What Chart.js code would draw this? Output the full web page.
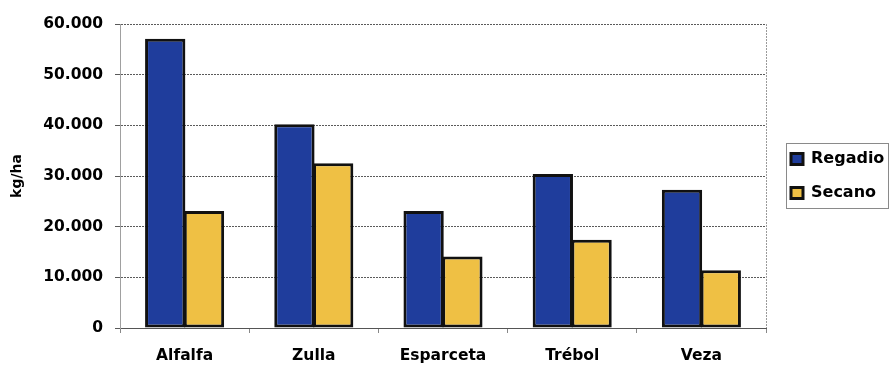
<!DOCTYPE html>
<html>
<head>
<meta charset="utf-8">
<script src="https://cdn.jsdelivr.net/npm/chart.js@4/dist/chart.umd.min.js"></script>
<style>
  html, body { margin: 0; padding: 0; background: #ffffff; }
  #wrap { width: 891px; height: 367px; position: relative; }
</style>
</head>
<body>
<div id="wrap"><canvas id="c" width="891" height="367"></canvas></div>
<script>
const categories = ["Alfalfa", "Zulla", "Esparceta", "Trébol", "Veza"];
const seriesNames = ["Regadio", "Secano"];
const regadio = [57100, 40200, 23100, 30400, 27300];
const secano = [23100, 32500, 14100, 17400, 11400];
const yAxisTitle = "kg/ha";
const yTickValues = [0, 10000, 20000, 30000, 40000, 50000, 60000];

function fmt(v) {
  return String(v).replace(/\B(?=(\d{3})+(?!\d))/g, ".");
}

const frame = {
  id: "frame",
  afterInit(chart) {
    const lg = chart.legend;
    if (lg && !lg._patched) {
      const orig = lg.fit.bind(lg);
      lg.fit = function () { orig(); this.width = 125; };
      lg._patched = true;
    }
  },
  afterLayout(chart) {
    const lg = chart.legend;
    if (lg) {
      lg.left = chart.chartArea.right + 7;
      lg.right = lg.left + lg.width;
      lg.top = chart.chartArea.top;
      lg.bottom = chart.chartArea.bottom;
    }
  },
  afterDraw(chart) {
    const ctx = chart.ctx;
    const a = chart.chartArea;
    ctx.save();
    ctx.strokeStyle = "#9a9a9a";
    ctx.lineWidth = 1;
    ctx.setLineDash([2, 1]);
    ctx.beginPath();
    ctx.moveTo(a.right + 0.5, a.top);
    ctx.lineTo(a.right + 0.5, a.bottom);
    ctx.stroke();
    ctx.setLineDash([]);
    ctx.strokeStyle = "#8a8a8a";
    ctx.strokeRect(786.5, 143.5, 102, 65);
    ctx.restore();
  }
};

new Chart(document.getElementById("c"), {
  type: "bar",
  data: {
    labels: categories,
    datasets: [
      { label: seriesNames[0], data: regadio, backgroundColor: "#1f3d9c", borderColor: "#111111", borderWidth: 3, borderSkipped: false },
      { label: seriesNames[1], data: secano, backgroundColor: "#efc044", borderColor: "#111111", borderWidth: 3, borderSkipped: false }
    ]
  },
  options: {
    responsive: false,
    animation: false,
    devicePixelRatio: 1,
    layout: { padding: { top: 24, bottom: 0, left: 0, right: 0 } },
    datasets: { bar: { categoryPercentage: 0.6, barPercentage: 1.04 } },
    scales: {
      x: {
        afterFit(scale) { scale.height = 39; },
        grid: { display: true, drawOnChartArea: false, drawTicks: true, tickLength: 5, color: "#888888", offset: true },
        border: { display: true, color: "#555555", width: 1 },
        ticks: { color: "#000000", padding: 14, maxRotation: 0, font: { family: "DejaVu Sans", weight: "bold", size: 15.5 } }
      },
      y: {
        min: 0, max: 60000,
        afterFit(scale) { scale.width = 120; },
        afterBuildTicks(scale) { scale.ticks = yTickValues.map(v => ({ value: v })); },
        grid: { color: "#5a5a5a", lineWidth: 1, tickLength: 5, drawTicks: true },
        border: { display: true, color: "#a0a0a0", dash: [2, 1], width: 1 },
        ticks: { color: "#000000", padding: 12, callback: v => fmt(v), font: { family: "DejaVu Sans", weight: "bold", size: 15.5 } },
        title: { display: true, text: yAxisTitle, color: "#000000", padding: { top: 9, bottom: 0 }, font: { family: "DejaVu Sans", weight: "bold", size: 14 } }
      }
    },
    plugins: {
      legend: {
        position: "right",
        align: "center",
        labels: { color: "#000000", boxWidth: 12, boxHeight: 11, padding: 18, font: { family: "DejaVu Sans", weight: "bold", size: 16 } }
      },
      tooltip: { enabled: false }
    }
  },
  plugins: [frame]
});
</script>
</body>
</html>
